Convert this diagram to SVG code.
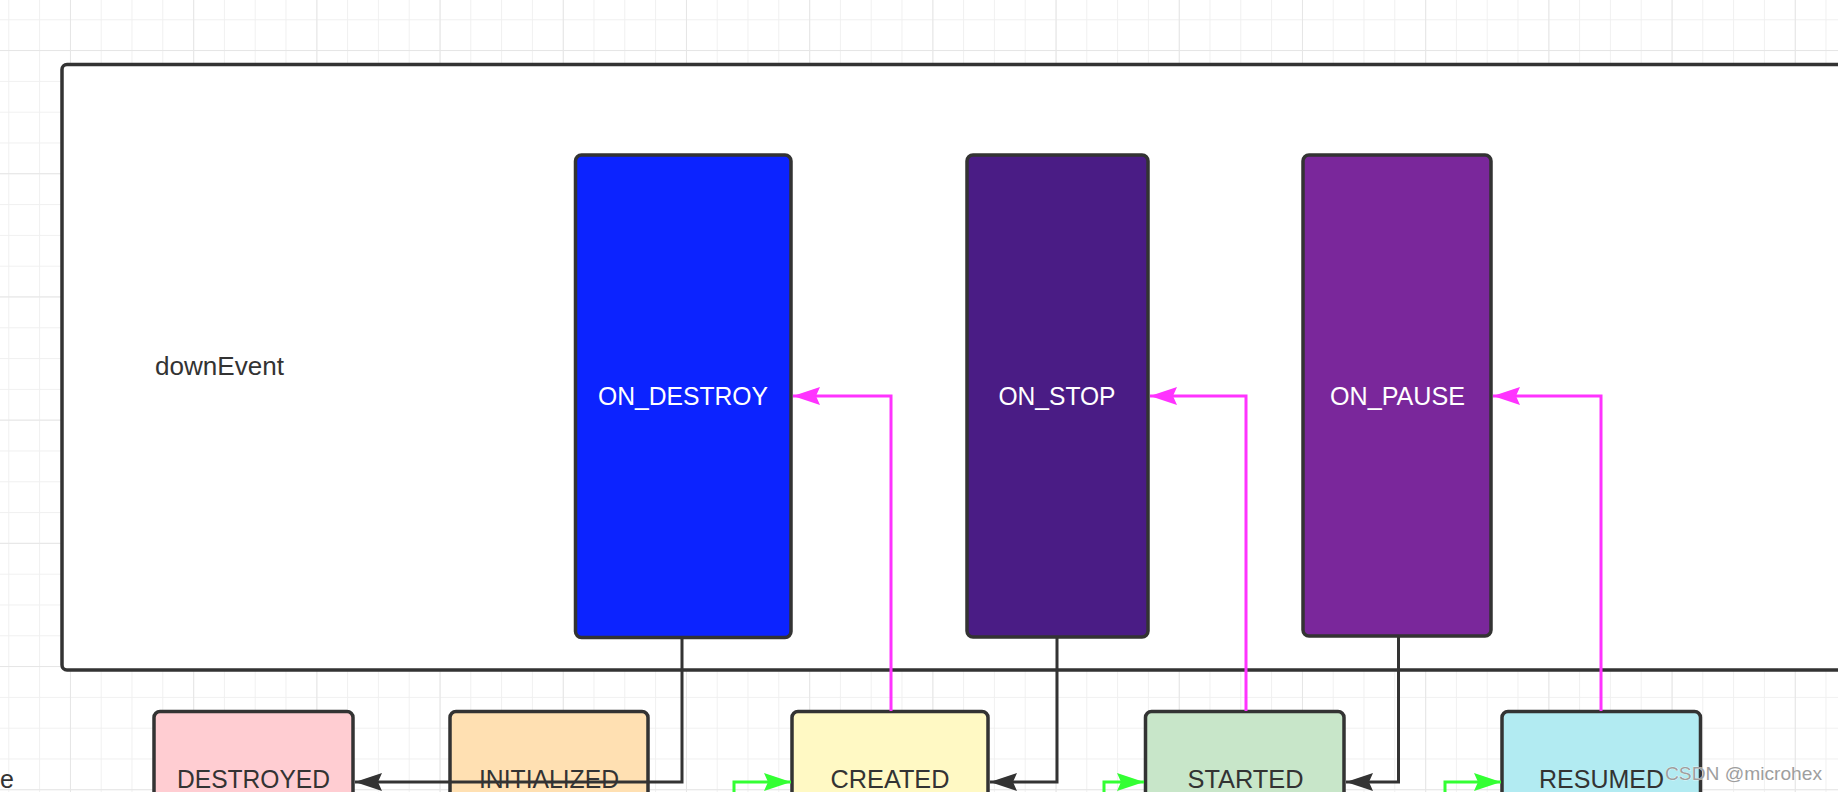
<svg xmlns="http://www.w3.org/2000/svg" width="1838" height="792" viewBox="0 0 1838 792">
<style>
.lbl{font-family:"Liberation Sans",Arial,Helvetica,sans-serif;font-size:25px;fill:#333333}
.wlbl{font-family:"Liberation Sans",Arial,Helvetica,sans-serif;font-size:25px;fill:#ffffff}
.box{stroke:#333333;stroke-width:3.5}
.blk{fill:none;stroke:#333333;stroke-width:3}
.mag{fill:none;stroke:#ff33ff;stroke-width:3}
.grn{fill:none;stroke:#33ff33;stroke-width:3}
</style>
<defs>
<pattern id="minor" patternUnits="userSpaceOnUse" x="8.3" y="19.3" width="30.8" height="30.8">
<path d="M0 0 H30.8 M0 0 V30.8" stroke="#f0f0f0" stroke-width="2" fill="none"/>
</pattern>
<pattern id="major" patternUnits="userSpaceOnUse" x="70" y="50" width="123.2" height="123.2">
<path d="M0 0 H123.2 M0 0 V123.2" stroke="#e6e6e6" stroke-width="2" fill="none"/>
</pattern>
<marker id="aBlk" viewBox="0 0 27 18" refX="27" refY="9" markerWidth="27" markerHeight="18" markerUnits="userSpaceOnUse" orient="auto">
<path d="M0 0 L27 9 L0 18 L4 9 Z" fill="#333333"/>
</marker>
<marker id="aMag" viewBox="0 0 27 18" refX="27" refY="9" markerWidth="27" markerHeight="18" markerUnits="userSpaceOnUse" orient="auto">
<path d="M0 0 L27 9 L0 18 L4 9 Z" fill="#ff33ff"/>
</marker>
<marker id="aGrn" viewBox="0 0 27 18" refX="27" refY="9" markerWidth="27" markerHeight="18" markerUnits="userSpaceOnUse" orient="auto">
<path d="M0 0 L27 9 L0 18 L4 9 Z" fill="#33ff33"/>
</marker>
</defs>
<rect width="1838" height="792" fill="#ffffff"/>
<rect width="1838" height="792" fill="url(#minor)"/>
<rect width="1838" height="792" fill="url(#major)"/>

<g id="container">
<rect x="62" y="64.5" width="1800" height="605.5" rx="5" fill="#ffffff" class="box"/>
<text class="lbl" x="155" y="375" textLength="129" lengthAdjust="spacingAndGlyphs">downEvent</text>
</g>

<g id="label-e">
<text class="lbl" x="0" y="788">e</text>
</g>

<g id="on_destroy">
<rect x="575.5" y="155" width="215.5" height="482.5" rx="6" fill="#0c23ff" class="box"/>
<text class="wlbl" x="683" y="405" text-anchor="middle" textLength="170" lengthAdjust="spacingAndGlyphs">ON_DESTROY</text>
</g>
<g id="on_stop">
<rect x="967" y="155" width="181" height="482" rx="6" fill="#4a1c85" class="box"/>
<text class="wlbl" x="1057" y="405" text-anchor="middle" textLength="117" lengthAdjust="spacingAndGlyphs">ON_STOP</text>
</g>
<g id="on_pause">
<rect x="1303" y="155" width="188" height="481" rx="6" fill="#7a279b" class="box"/>
<text class="wlbl" x="1397.5" y="405" text-anchor="middle" textLength="135" lengthAdjust="spacingAndGlyphs">ON_PAUSE</text>
</g>

<g id="destroyed">
<rect x="154" y="711.5" width="199" height="130" rx="6" fill="#ffcdd2" class="box"/>
<text class="lbl" x="253.5" y="788" text-anchor="middle" textLength="153" lengthAdjust="spacingAndGlyphs">DESTROYED</text>
</g>
<g id="initialized">
<rect x="450" y="711.5" width="198" height="130" rx="6" fill="#ffe0b2" class="box"/>
<text class="lbl" x="549" y="788" text-anchor="middle" textLength="140" lengthAdjust="spacingAndGlyphs">INITIALIZED</text>
</g>
<g id="created">
<rect x="792" y="711.5" width="196" height="130" rx="6" fill="#fff9c4" class="box"/>
<text class="lbl" x="890" y="788" text-anchor="middle" textLength="119" lengthAdjust="spacingAndGlyphs">CREATED</text>
</g>
<g id="started">
<rect x="1145.5" y="711.5" width="198.5" height="130" rx="6" fill="#c8e6c9" class="box"/>
<text class="lbl" x="1245.5" y="788" text-anchor="middle" textLength="116" lengthAdjust="spacingAndGlyphs">STARTED</text>
</g>
<g id="resumed">
<rect x="1502" y="711.5" width="198.5" height="130" rx="6" fill="#b2ebf2" class="box"/>
<text class="lbl" x="1601.5" y="788" text-anchor="middle" textLength="125" lengthAdjust="spacingAndGlyphs">RESUMED</text>
</g>

<g id="connectors">
<path class="blk" d="M682 638 V782 H355" marker-end="url(#aBlk)"/>
<path class="blk" d="M1057 638 V782 H990" marker-end="url(#aBlk)"/>
<path class="blk" d="M1398.5 637 V782 H1346" marker-end="url(#aBlk)"/>
<path class="mag" d="M891 711 V396 H793" marker-end="url(#aMag)"/>
<path class="mag" d="M1246 711 V396 H1150" marker-end="url(#aMag)"/>
<path class="mag" d="M1601 711 V396 H1493" marker-end="url(#aMag)"/>
<path class="grn" d="M734 800 V782 H791" marker-end="url(#aGrn)"/>
<path class="grn" d="M1104 800 V782 H1144" marker-end="url(#aGrn)"/>
<path class="grn" d="M1445 800 V782 H1501" marker-end="url(#aGrn)"/>
</g>

<g id="watermark">
<text x="1665" y="780" font-family="'Liberation Sans',Arial,sans-serif" font-size="19" fill="#9e9e9e" stroke="#ffffff" stroke-width="0.6" paint-order="stroke" textLength="157" lengthAdjust="spacingAndGlyphs">CSDN @microhex</text>
</g>
</svg>
